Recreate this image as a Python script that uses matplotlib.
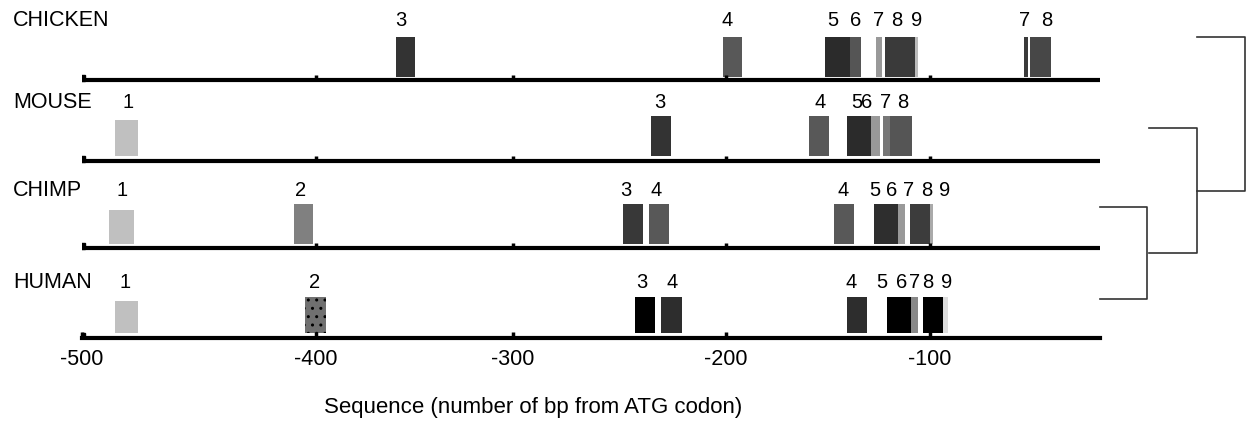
import numpy as np
import matplotlib.pyplot as plt
import matplotlib.transforms as mtransforms

plt.rcParams['font.family'] = ['Liberation Sans', 'DejaVu Sans']

# -------------------------------
# Data: motif boxes per species (bp from ATG)
# -------------------------------
species = ["CHICKEN", "MOUSE", "CHIMP", "HUMAN"]

chicken_start = [-359.5, -201.5, -151.5, -139.2, -126.5, -122.1, -107.4, -44.7, -41.2]
chicken_width = [10.0, 9.3, 12.3, 5.4, 3.0, 14.7, 1.5, 2.3, 12.4]
chicken_shade = ["#333333", "#585858", "#2b2b2b", "#555555", "#999999", "#3a3a3a", "#bbbbbb", "#3a3a3a", "#474747"]
chicken_tags = ["3", "4", "5", "6", "7", "8", "9", "7", "8"]
chicken_tag_pos = [-356.9, -199.5, -147.5, -136.3, -125.0, -116.2, -106.4, -44.1, -31.2]

mouse_start = [-485.9, -235.2, -159.3, -140.7, -128.9, -123.0, -119.6]
mouse_width = [9.8, 9.4, 9.8, 11.8, 4.4, 3.4, 10.8]
mouse_shade = ["#c0c0c0", "#333333", "#585858", "#2b2b2b", "#999999", "#777777", "#555555"]
mouse_tags = ["1", "3", "4", "5", "6", "7", "8"]
mouse_tag_pos = [-480.3, -231.0, -153.9, -135.8, -130.9, -121.6, -113.2]

chimp_start = [-488.5, -409.4, -248.4, -236.2, -147.1, -127.5, -115.7, -109.8, -100.0]
chimp_width = [10.7, 8.1, 9.4, 9.4, 9.8, 11.8, 3.4, 9.8, 1.8]
chimp_shade = ["#c0c0c0", "#808080", "#383838", "#585858", "#585858", "#2e2e2e", "#999999", "#3c3c3c", "#aaaaaa"]
chimp_tags = ["1", "2", "3", "4", "4", "5", "6", "7", "8", "9"]
chimp_tag_pos = [-482.9, -406.8, -246.9, -232.9, -142.6, -126.9, -118.6, -110.3, -101.5, -91.2]

human_start = [-485.9, -404.7, -242.7, -230.5, -140.7, -121.1, -109.3, -103.4, -92.4]
human_width = [9.8, 9.8, 9.4, 9.8, 9.8, 11.8, 3.4, 11.0, 3.0]
human_shade = ["#c0c0c0", "#707070", "#000000", "#2d2d2d", "#2d2d2d", "#000000", "#888888", "#000000", "#dddddd"]
human_tags = ["1", "2", "3", "4", "4", "5", "6", "7", "8", "9"]
human_tag_pos = [-481.6, -400.5, -239.4, -225.4, -138.7, -123.5, -113.7, -107.4, -101.0, -90.0]

x_ticks = [-500, -400, -300, -200, -100]

# -------------------------------
# Layout (axis in the original figure is not evenly spaced)
# -------------------------------
bp_knots = [-1000, -500, -400, -300, -200, -100, 0, 500]
px_knots = [-1088, 82, 316, 513, 726, 930, 1100, 1950]


def fwd(x):
    return np.interp(x, bp_knots, px_knots)


def inv(p):
    return np.interp(p, px_knots, bp_knots)


baseline = [258, 177, 90, 0]      # track line height (axes units)
bar_bottom = [261, 182, 94, 5]
bar_height = [40, 40, 40, 36]
first_short = [40, 36, 34, 32]     # height of the first (leftmost) box
tag_y = [317, 235, 148, 55]
arm_offset = [43, 33, 41, 39]      # where the tree branches meet each track

fig = plt.figure(figsize=(12.48, 4.24), dpi=100)
ax = fig.add_axes([82 / 1248, 86 / 424, 1018 / 1248, 338 / 424])
ax.set_xscale('function', functions=(fwd, inv))
ax.set_xlim(-500, 0)
ax.set_ylim(0, 338)

for s in ["top", "right", "left"]:
    ax.spines[s].set_visible(False)
ax.spines["bottom"].set_linewidth(3)
ax.set_yticks([])
ax.set_xticks(x_ticks)
ax.set_xticklabels([str(t) for t in x_ticks])
ax.tick_params(axis='x', direction='in', length=4, width=2.5, pad=8, labelsize=15.5)

starts = [chicken_start, mouse_start, chimp_start, human_start]
widths = [chicken_width, mouse_width, chimp_width, human_width]
shades = [chicken_shade, mouse_shade, chimp_shade, human_shade]
tags = [chicken_tags, mouse_tags, chimp_tags, human_tags]
tag_pos = [chicken_tag_pos, mouse_tag_pos, chimp_tag_pos, human_tag_pos]

label_tf = mtransforms.blended_transform_factory(fig.transFigure, ax.transData)

for i, name in enumerate(species):
    heights = [bar_height[i]] * len(starts[i])
    if tags[i][0] == "1":
        heights[0] = first_short[i]
    bars = ax.bar(starts[i], heights, width=widths[i], bottom=bar_bottom[i],
                  align='edge', color=shades[i], linewidth=0)
    if name == "HUMAN":
        bars[1].set_hatch('..')
        bars[1].set_edgecolor('black')

    # track line + small tick marks
    if i < 3:
        ax.hlines(baseline[i], -500, 0, color='black', lw=3)
        ax.vlines(x_ticks[1:], baseline[i], baseline[i] + 5, color='black', lw=2.5)
    ax.plot([-500], [baseline[i] + 2], marker='s', ms=4, color='black')

    for t, p in zip(tags[i], tag_pos[i]):
        ax.text(p, tag_y[i], t, ha='center', va='center', fontsize=14.5)
    ax.text(13 / 1248, tag_y[i], name, transform=label_tf,
            ha='left', va='center', fontsize=15.5)

# dendrogram ((HUMAN, CHIMP), MOUSE), CHICKEN
arm = [b + o for b, o in zip(baseline, arm_offset)]


def bracket(y1, y2, x1, x2):
    ax.plot([x1, x2, x2, x1], [y1, y1, y2, y2], color='#333333', lw=1.2,
            transform=label_tf, clip_on=False)
    return (y1 + y2) / 2


n1 = bracket(arm[2], arm[3], 1100 / 1248, 1147 / 1248)
n2 = bracket(arm[1], n1, 1149 / 1248, 1197 / 1248)
bracket(arm[0], n2, 1197 / 1248, 1245 / 1248)

fig.text(533 / 1248, 1 - 408 / 424, "Sequence (number of bp from ATG codon)",
         ha='center', va='center', fontsize=16)

fig.savefig("out.png", dpi=100)
